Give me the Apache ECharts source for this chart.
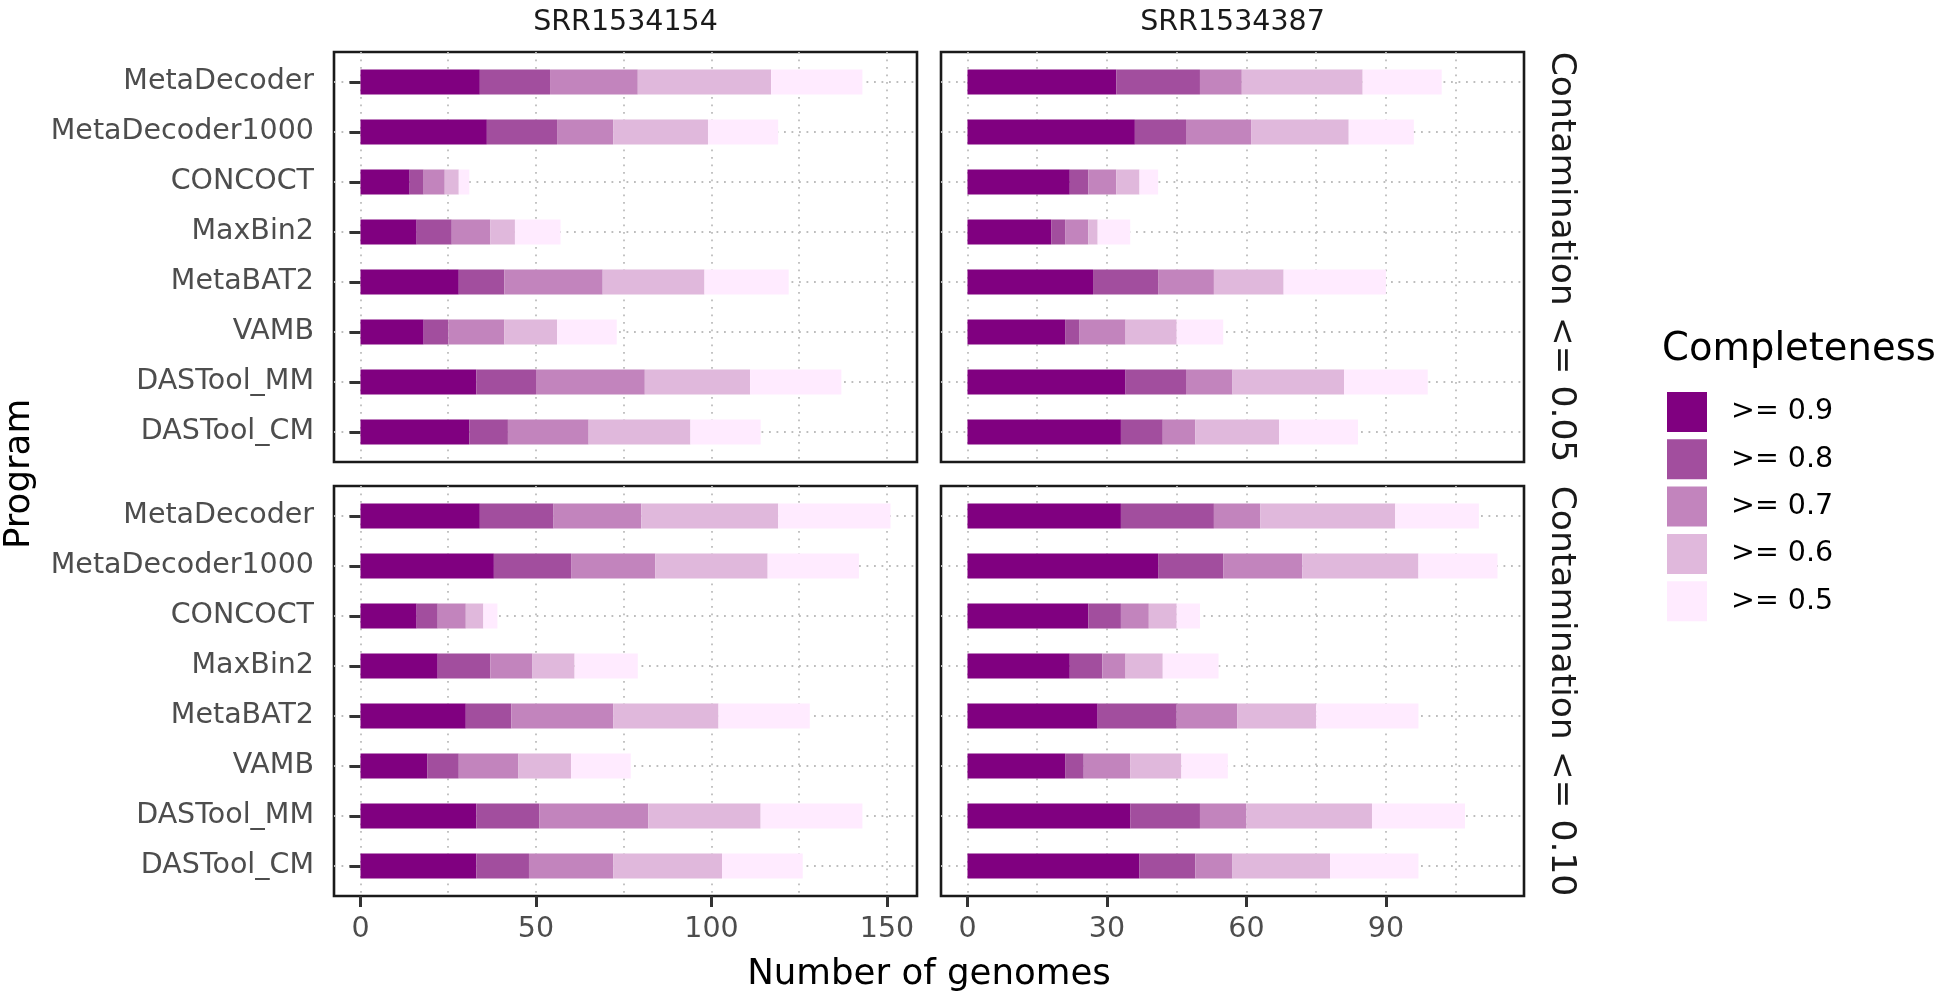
<!DOCTYPE html>
<html>
<head>
<meta charset="utf-8">
<script src="https://cdn.jsdelivr.net/npm/echarts@6/dist/echarts.min.js"></script>
<style>
html,body{margin:0;padding:0;background:#ffffff;}
#chart{width:1952px;height:996px;}
</style>
</head>
<body>
<div id="chart"></div>
<script>
// ---------------- data ----------------
const programs = ['MetaDecoder','MetaDecoder1000','CONCOCT','MaxBin2','MetaBAT2','VAMB','DASTool_MM','DASTool_CM'];
const levels = ['>= 0.9','>= 0.8','>= 0.7','>= 0.6','>= 0.5'];
const levelColors = ['#800080','#A24E9E','#C284BD','#E0B8DC','#FFEBFF'];
const samples = ['SRR1534154','SRR1534387'];
const contaminations = ['Contamination <= 0.05','Contamination <= 0.10'];
const ticksSRR1534154 = [0,50,100,150];
const ticksSRR1534387 = [0,30,60,90];

// genomes per completeness bin; one row per program, columns follow `levels`
const srr154_c05 = [[34,20,25,38,26],[36,20,16,27,20],[14,4,6,4,3],[16,10,11,7,13],[28,13,28,29,24],[18,7,16,15,17],[33,17,31,30,26],[31,11,23,29,20]];
const srr387_c05 = [[32,18,9,26,17],[36,11,14,21,14],[22,4,6,5,4],[18,3,5,2,7],[27,14,12,15,22],[21,3,10,11,10],[34,13,10,24,18],[33,9,7,18,17]];
const srr154_c10 = [[34,21,25,39,32],[38,22,24,32,26],[16,6,8,5,4],[22,15,12,12,18],[30,13,29,30,26],[19,9,17,15,17],[33,18,31,32,29],[33,15,24,31,23]];
const srr387_c10 = [[33,20,10,29,18],[41,14,17,25,17],[26,7,6,6,5],[22,7,5,8,12],[28,17,13,17,22],[21,4,10,11,10],[35,15,10,27,20],[37,12,8,21,19]];

// ---------------- layout ----------------
const FONT = 'DejaVu Sans';
const panels = [[srr154_c05, srr387_c05],[srr154_c10, srr387_c10]];
const colTicks = [ticksSRR1534154, ticksSRR1534387];
const colLeft = [334, 941], colW = 583;
const rowTop = [52, 486], rowH = 410;
const nCat = programs.length;
const band = rowH / (nCat - 1 + 1.2);
const gridDot = {color:'#bdbdbd', width:1.8, type:[1.8,5.7]};
const axisTxt = {fontFamily: FONT, fontSize: 28.5, color:'#4d4d4d'};
const tickStyle = {color:'#333333', width:3};

const grids = [], xAxes = [], yAxes = [], series = [];
function addGrid(g, xa, ya){
  const i = grids.length;
  grids.push(Object.assign({outerBoundsMode:'none', containLabel:false}, g));
  xAxes.push(Object.assign({gridIndex:i}, xa));
  yAxes.push(Object.assign({gridIndex:i}, ya));
  return i;
}
const hiddenVal = {type:'value', show:false, min:0, max:1};

for (let c = 0; c < 2; c++) {
  let maxTotal = 0;
  for (let r = 0; r < 2; r++) panels[r][c].forEach(row => { maxTotal = Math.max(maxTotal, row.reduce((a,b)=>a+b,0)); });
  const lo = -0.05*maxTotal, hi = 1.05*maxTotal;
  const ppu = colW/(hi-lo);
  const zeroX = colLeft[c] - lo*ppu;
  const ticks = colTicks[c];
  const major = ticks[1]-ticks[0];
  const step = major/2;
  const gridMax = Math.floor(hi/step)*step;

  for (let r = 0; r < 2; r++) {
    // panel frame + horizontal grid lines at category centres
    addGrid({left:colLeft[c], top:rowTop[r], width:colW, height:rowH, show:true, borderColor:'#1a1a1a', borderWidth:2.6, backgroundColor:'rgba(0,0,0,0)'},
      hiddenVal,
      {type:'value', min:-0.6, max:nCat-1+0.6, splitNumber:nCat, axisLine:{show:false}, axisTick:{show:false}, axisLabel:{show:false},
       splitLine:{show:true, showMinLine:false, showMaxLine:false, lineStyle:gridDot}});
    // vertical grid lines
    addGrid({left:zeroX, top:rowTop[r], width:gridMax*ppu, height:rowH},
      {type:'value', min:0, max:gridMax, interval:step, axisLine:{show:false}, axisTick:{show:false}, axisLabel:{show:false},
       splitLine:{show:true, lineStyle:gridDot}},
      hiddenVal);
    // bars
    const bi = addGrid({left:zeroX, top:rowTop[r]+0.1*band, width:hi*ppu, height:nCat*band},
      {type:'value', show:false, min:0, max:hi},
      {type:'category', data:programs, inverse:true, show:c===0, offset:zeroX-colLeft[c],
       axisLine:{show:false}, splitLine:{show:false},
       axisTick:{show:true, alignWithLabel:true, length:11, lineStyle:tickStyle},
       axisLabel:Object.assign({margin:20}, axisTxt)});
    const data = panels[r][c];
    levels.forEach((lv, l) => {
      series.push({type:'bar', name:lv, xAxisIndex:bi, yAxisIndex:bi, stack:'s'+r+c, barWidth:'50%',
        silent:true, itemStyle:{color:levelColors[l]}, data:data.map(row => row[l])});
    });
    // bottom axis ticks and labels
    if (r === 1) {
      addGrid({left:zeroX, top:rowTop[r], width:ticks[ticks.length-1]*ppu, height:rowH},
        {type:'value', min:0, max:ticks[ticks.length-1], interval:major, axisLine:{show:false}, splitLine:{show:false},
         axisTick:{show:true, length:11, lineStyle:tickStyle}, axisLabel:Object.assign({margin:19}, axisTxt)},
        hiddenVal);
    }
  }
}

const graphic = [];
for (let c = 0; c < 2; c++) {
  graphic.push({type:'text', x:colLeft[c]+colW/2, y:23, silent:true,
    style:{text:samples[c], font:'28.5px "'+FONT+'"', fill:'#1a1a1a', align:'center', verticalAlign:'middle'}});
}
for (let r = 0; r < 2; r++) {
  graphic.push({type:'text', x:1561, y:rowTop[r]+rowH/2, rotation:-Math.PI/2, silent:true,
    style:{text:contaminations[r], font:'34.5px "'+FONT+'"', fill:'#1a1a1a', align:'center', verticalAlign:'middle'}});
}
graphic.push({type:'text', x:929, y:975, silent:true,
  style:{text:'Number of genomes', font:'35.6px "'+FONT+'"', fill:'#000', align:'center', verticalAlign:'middle'}});
graphic.push({type:'text', x:20, y:rowTop[0]+(rowTop[1]+rowH-rowTop[0])/2, rotation:Math.PI/2, silent:true,
  style:{text:'Program', font:'35.6px "'+FONT+'"', fill:'#000', align:'center', verticalAlign:'middle'}});
graphic.push({type:'text', x:1662, y:350, silent:true,
  style:{text:'Completeness', font:'38.5px "'+FONT+'"', fill:'#000', align:'left', verticalAlign:'middle'}});

const chart = echarts.init(document.getElementById('chart'), null, {renderer:'canvas'});
chart.setOption({
  animation:false,
  backgroundColor:'#ffffff',
  grid:grids, xAxis:xAxes, yAxis:yAxes, series:series,
  legend:{data:levels, orient:'vertical', left:1667, top:392, itemWidth:40, itemHeight:40, itemGap:7.3, padding:0,
    icon:'rect', selectedMode:false, itemStyle:{borderWidth:0},
    textStyle:{fontFamily:FONT, fontSize:28.5, color:'#000', padding:[0,0,0,19]}},
  graphic:graphic
});
</script>
</body>
</html>
